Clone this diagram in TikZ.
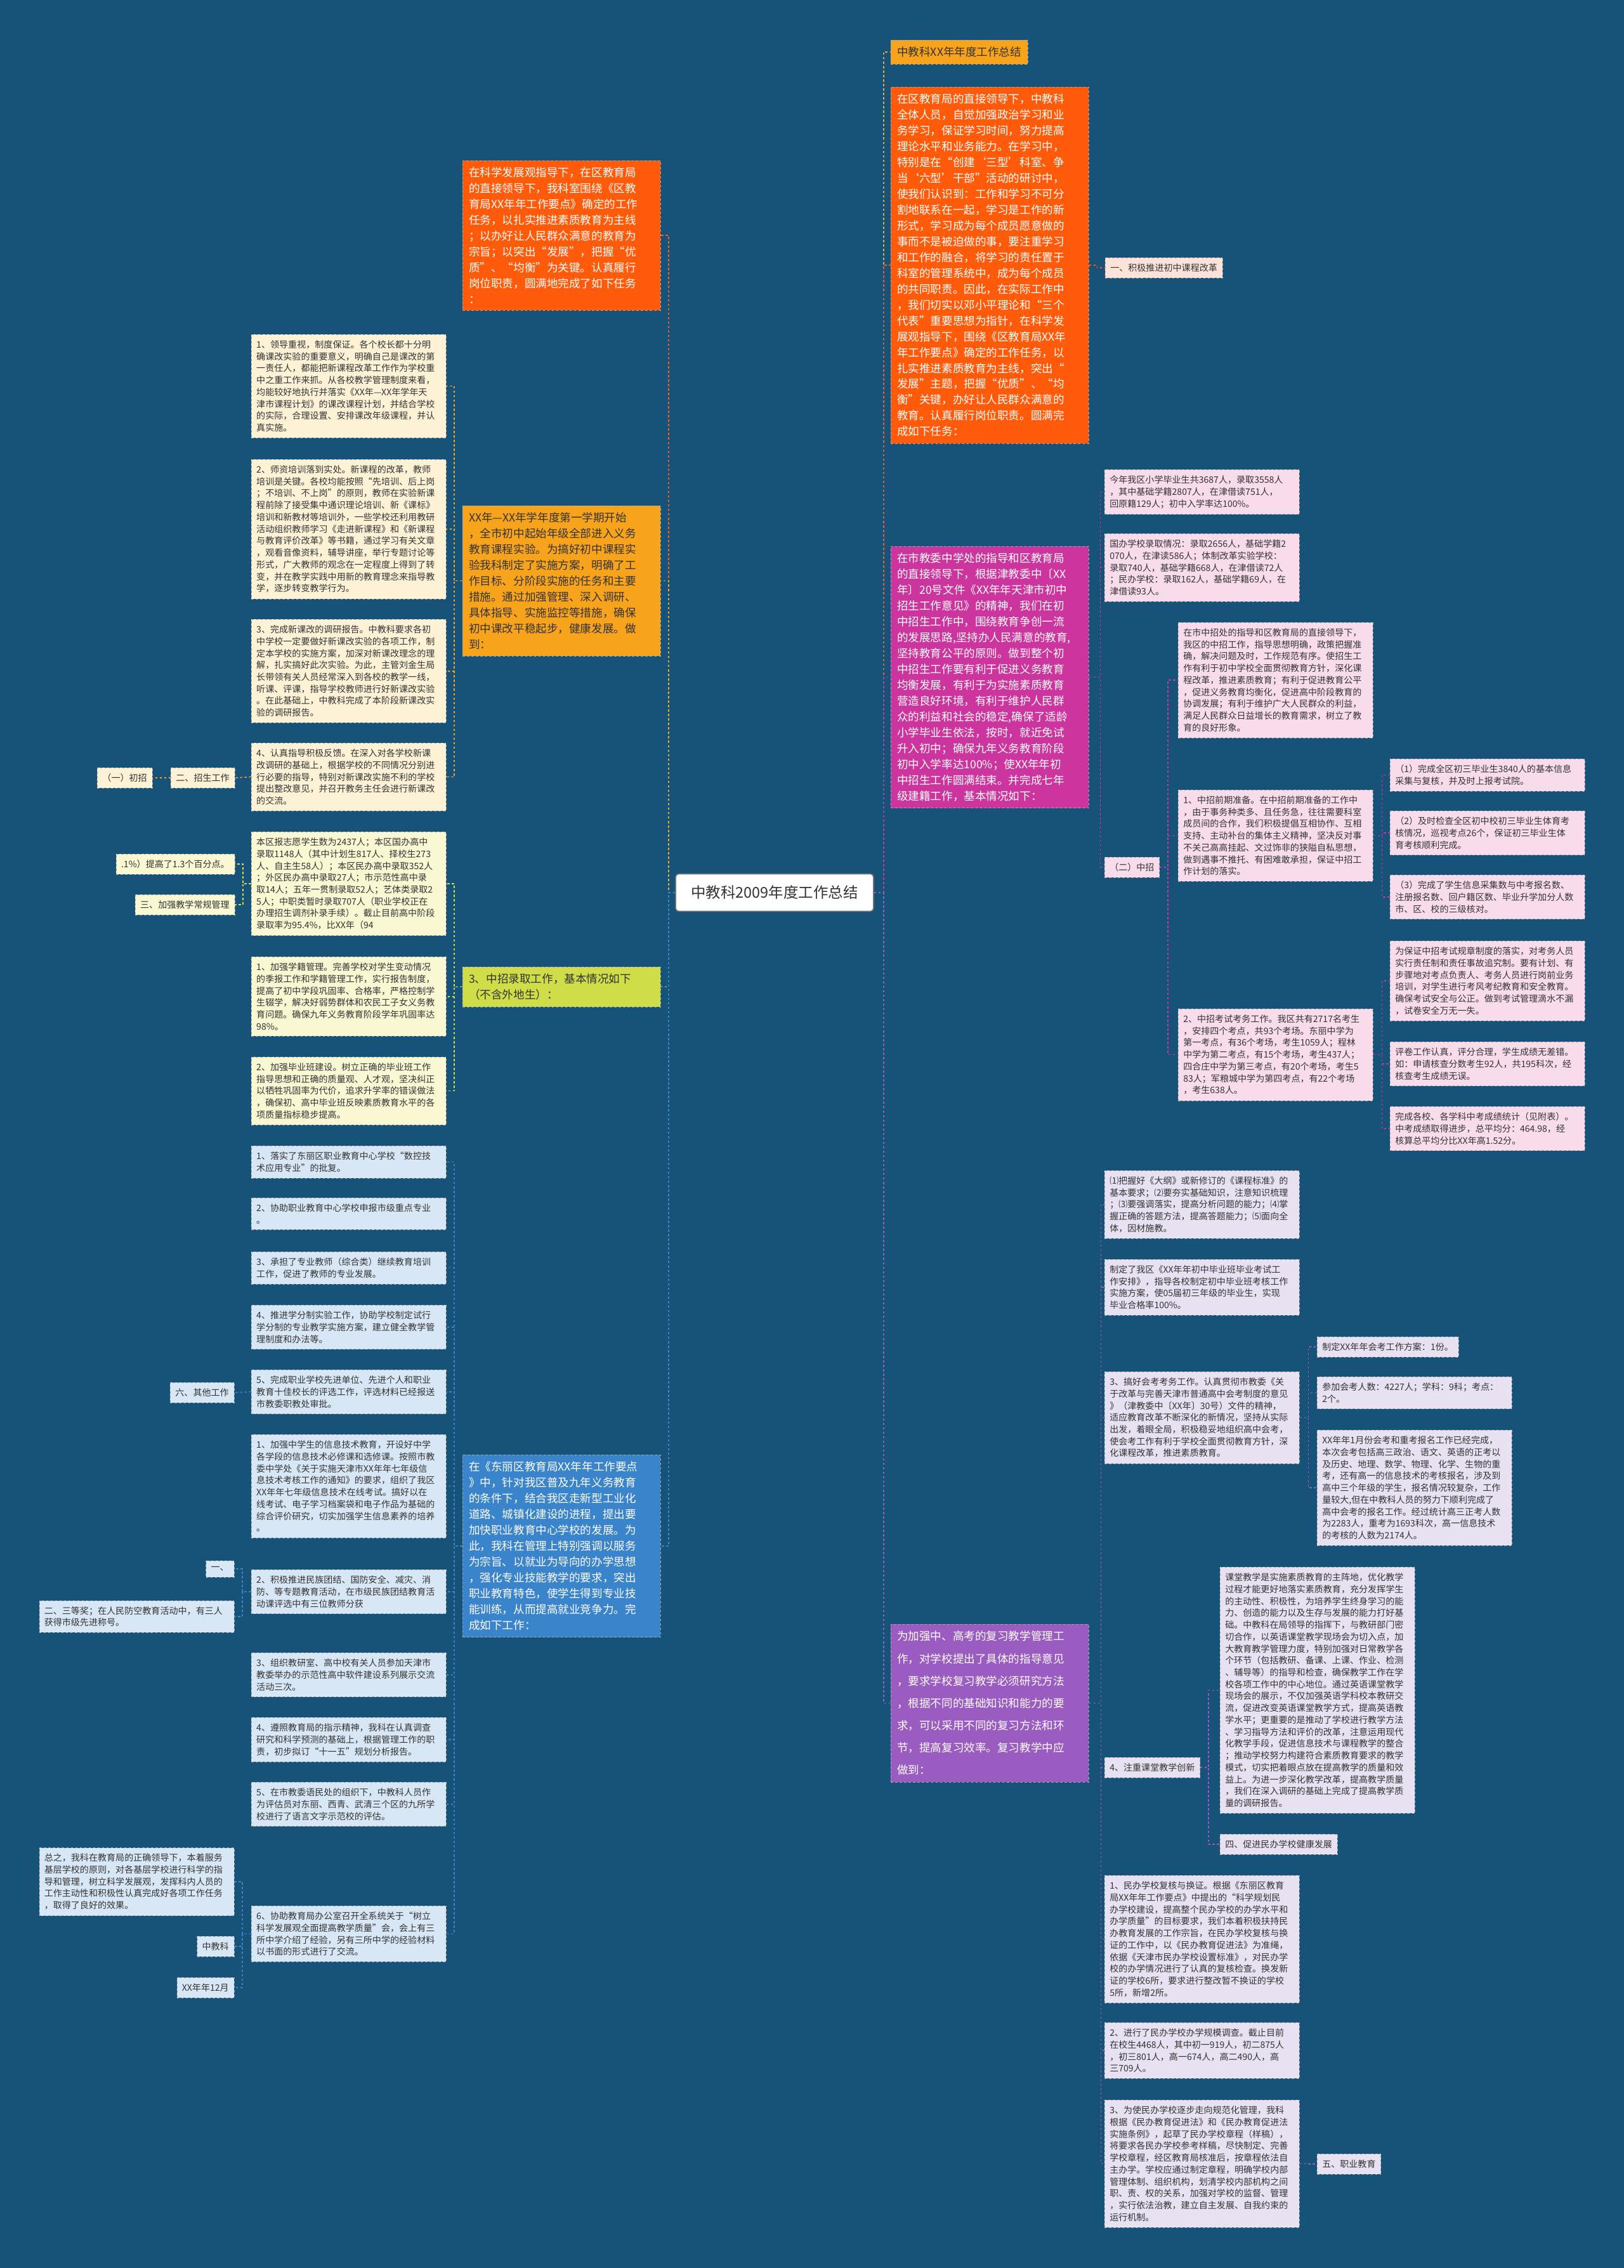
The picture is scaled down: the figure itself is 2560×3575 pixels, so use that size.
\documentclass[tikz,border=0pt]{standalone}
\usepackage{fontspec}
\setmainfont{Noto Sans CJK SC}
\usetikzlibrary{positioning}
\definecolor{bgblue}{HTML}{175278}
\definecolor{redorange}{HTML}{FF5B0A}
\definecolor{amber}{HTML}{F7A31C}
\definecolor{lime}{HTML}{CFDD48}
\definecolor{mgnt}{HTML}{CC359E}
\definecolor{purp}{HTML}{9A5CC0}
\definecolor{skyblue2}{HTML}{3A84CC}
\definecolor{creamA}{HTML}{FDF2D6}
\definecolor{creamB}{HTML}{FAF7D3}
\definecolor{paleblue}{HTML}{D8E7F5}
\definecolor{peach}{HTML}{FCE3D9}
\definecolor{palepink}{HTML}{F8DCEB}
\definecolor{lavender}{HTML}{E7E1F1}
\definecolor{inkgray}{HTML}{333333}

\begin{document}
\begin{tikzpicture}[
      x=0.3mm, y=-0.3mm,
      link/.style={dashed, line width=0.45mm},
      root/.style={draw=black!55, line width=0.5mm, fill=white, rounded corners=1.5mm,
                   minimum width=93.6mm, minimum height=17.7mm,
                   font=\fontsize{20}{24}\selectfont, text=inkgray},
      head/.style={draw=black!35, dashed, inner xsep=3mm, inner ysep=3.2mm,
                   align=left, font=\fontsize{15}{21.3}\selectfont},
      topic/.style={head, text width=87.6mm},
      leaf/.style={draw=black!35, dashed, text=inkgray, inner xsep=2.4mm, inner ysep=2.8mm,
                   align=left, font=\fontsize{12}{16}\selectfont},
      item/.style={leaf, text width=87.3mm}
    ]

    \fill[bgblue] (0,0) rectangle (2560,3575);

    % centre
    \node[root] (root) at (1221,1407) {中教科2009年度工作总结};

    % right main branches
    \node[head, fill=amber, text=inkgray, anchor=north west] (r1) at (1404,63)
      {中教科XX年年度工作总结};
    \node[topic, fill=redorange, text=white, anchor=north west] (r2) at (1404,137)
      {在区教育局的直接领导下，中教科\\全体人员，自觉加强政治学习和业\\务学习，保证学习时间，努力提高\\理论水平和业务能力。在学习中，\\特别是在“创建‘三型’科室、争\\当‘六型’干部”活动的研讨中，\\使我们认识到：工作和学习不可分\\割地联系在一起，学习是工作的新\\形式，学习成为每个成员愿意做的\\事而不是被迫做的事，要注重学习\\和工作的融合，将学习的责任置于\\科室的管理系统中，成为每个成员\\的共同职责。因此，在实际工作中\\，我们切实以邓小平理论和“三个\\代表”重要思想为指针，在科学发\\展观指导下，围绕《区教育局XX年\\年工作要点》确定的工作任务，以\\扎实推进素质教育为主线，突出“\\发展”主题，把握“优质”、“均\\衡”关键，办好让人民群众满意的\\教育。认真履行岗位职责。圆满完\\成如下任务：};
    \node[topic, fill=mgnt, text=white, anchor=north west] (r3) at (1404,861)
      {在市教委中学处的指导和区教育局\\的直接领导下，根据津教委中〔XX\\年〕20号文件《XX年年天津市初中\\招生工作意见》的精神，我们在初\\中招生工作中，围绕教育争创一流\\的发展思路,坚持办人民满意的教育,\\坚持教育公平的原则。做到整个初\\中招生工作要有利于促进义务教育\\均衡发展，有利于为实施素质教育\\营造良好环境，有利于维护人民群\\众的利益和社会的稳定,确保了适龄\\小学毕业生依法，按时，就近免试\\升入初中；确保九年义务教育阶段\\初中入学率达100\%；使XX年年初\\中招生工作圆满结束。并完成七年\\级建籍工作，基本情况如下：};
    \node[topic, fill=purp, text=white, anchor=north west,
          font=\fontsize{15}{30}\selectfont] (r4) at (1404,2560)
      {为加强中、高考的复习教学管理工\\作，对学校提出了具体的指导意见\\，要求学校复习教学必须研究方法\\，根据不同的基础知识和能力的要\\求，可以采用不同的复习方法和环\\节，提高复习效率。复习教学中应\\做到：};

    % left main branches
    \node[topic, fill=redorange, text=white, anchor=north west] (l1) at (729,253)
      {在科学发展观指导下，在区教育局\\的直接领导下，我科室围绕《区教\\育局XX年年工作要点》确定的工作\\任务，以扎实推进素质教育为主线\\；以办好让人民群众满意的教育为\\宗旨；以突出“发展”，把握“优\\质”、“均衡”为关键。认真履行\\岗位职责，圆满地完成了如下任务\\：};
    \node[topic, fill=amber, text=inkgray, anchor=north west] (l2) at (729,797)
      {XX年—XX年学年度第一学期开始\\，全市初中起始年级全部进入义务\\教育课程实验。为搞好初中课程实\\验我科制定了实施方案，明确了工\\作目标、分阶段实施的任务和主要\\措施。通过加强管理、深入调研、\\具体指导、实施监控等措施，确保\\初中课改平稳起步，健康发展。做\\到：};
    \node[topic, fill=lime, text=inkgray, anchor=north west] (l3) at (729,1524)
      {3、中招录取工作，基本情况如下\\（不含外地生）：};
    \node[topic, fill=skyblue2, text=white, anchor=north west] (l4) at (729,2293)
      {在《东丽区教育局XX年年工作要点\\》中，针对我区普及九年义务教育\\的条件下，结合我区走新型工业化\\道路、城镇化建设的进程，提出要\\加快职业教育中心学校的发展。为\\此，我科在管理上特别强调以服务\\为宗旨、以就业为导向的办学思想\\，强化专业技能教学的要求，突出\\职业教育特色，使学生得到专业技\\能训练，从而提高就业竞争力。完\\成如下工作：};

    % left: course reform
    \node[item, fill=creamA, anchor=north west] (c1) at (396,527)
      {1、领导重视，制度保证。各个校长都十分明\\确课改实验的重要意义，明确自己是课改的第\\一责任人，都能把新课程改革工作作为学校重\\中之重工作来抓。从各校教学管理制度来看，\\均能较好地执行并落实《XX年—XX年学年天\\津市课程计划》的课改课程计划，并结合学校\\的实际，合理设置、安排课改年级课程，并认\\真实施。};
    \node[item, fill=creamA, anchor=north west] (c2) at (396,724)
      {2、师资培训落到实处。新课程的改革，教师\\培训是关键。各校均能按照“先培训、后上岗\\；不培训、不上岗”的原则，教师在实验新课\\程前除了接受集中通识理论培训、新《课标》\\培训和新教材等培训外，一些学校还利用教研\\活动组织教师学习《走进新课程》和《新课程\\与教育评价改革》等书籍，通过学习有关文章\\，观看音像资料，辅导讲座，举行专题讨论等\\形式，广大教师的观念在一定程度上得到了转\\变，并在教学实践中用新的教育理念来指导教\\学，逐步转变教学行为。};
    \node[item, fill=creamA, anchor=north west] (c3) at (396,976)
      {3、完成新课改的调研报告。中教科要求各初\\中学校一定要做好新课改实验的各项工作，制\\定本学校的实施方案，加深对新课改理念的理\\解，扎实搞好此次实验。为此，主管刘金生局\\长带领有关人员经常深入到各校的教学一线，\\听课、评课，指导学校教师进行好新课改实验\\。在此基础上，中教科完成了本阶段新课改实\\验的调研报告。};
    \node[item, fill=creamA, anchor=north west] (c4) at (396,1171)
      {4、认真指导积极反馈。在深入对各学校新课\\改调研的基础上，根据学校的不同情况分别进\\行必要的指导，特别对新课改实施不利的学校\\提出整改意见，并召开教务主任会进行新课改\\的交流。};
    \node[leaf, fill=creamA, anchor=east] (zhaosheng) at (370,1226) {二、招生工作};
    \node[leaf, fill=creamA, anchor=east] (chuzhao) at (240,1226) {（一）初招};

    % left: enrolment
    \node[item, fill=creamB, anchor=north west] (d1) at (396,1311)
      {本区报志愿学生数为2437人；本区国办高中\\录取1148人（其中计划生817人、择校生273\\人、自主生58人）；本区民办高中录取352人\\；外区民办高中录取27人；市示范性高中录\\取14人；五年一贯制录取52人；艺体类录取2\\5人；中职类暂时录取707人（职业学校正在\\办理招生调剂补录手续）。截止目前高中阶段\\录取率为95.4\%，比XX年（94};
    \node[item, fill=creamB, anchor=north west] (d2) at (396,1508)
      {1、加强学籍管理。完善学校对学生变动情况\\的季报工作和学籍管理工作，实行报告制度，\\提高了初中学段巩固率、合格率，严格控制学\\生辍学，解决好弱势群体和农民工子女义务教\\育问题。确保九年义务教育阶段学年巩固率达\\98\%。};
    \node[item, fill=creamB, anchor=north west] (d3) at (396,1666)
      {2、加强毕业班建设。树立正确的毕业班工作\\指导思想和正确的质量观、人才观，坚决纠正\\以牺牲巩固率为代价，追求升学率的错误做法\\，确保初、高中毕业班反映素质教育水平的各\\项质量指标稳步提高。};
    \node[leaf, fill=creamB, anchor=east] (tigao) at (370,1362) {.1\%）提高了1.3个百分点。};
    \node[leaf, fill=creamB, anchor=east] (changgui) at (370,1426) {三、加强教学常规管理};

    % left: vocational
    \node[item, fill=paleblue, anchor=north west] (e1) at (396,1806)
      {1、落实了东丽区职业教育中心学校“数控技\\术应用专业”的批复。};
    \node[item, fill=paleblue, anchor=north west] (e2) at (396,1888)
      {2、协助职业教育中心学校申报市级重点专业\\。};
    \node[item, fill=paleblue, anchor=north west] (e3) at (396,1973)
      {3、承担了专业教师（综合类）继续教育培训\\工作，促进了教师的专业发展。};
    \node[item, fill=paleblue, anchor=north west] (e4) at (396,2057)
      {4、推进学分制实验工作，协助学校制定试行\\学分制的专业教学实施方案，建立健全教学管\\理制度和办法等。};
    \node[item, fill=paleblue, anchor=north west] (e5) at (396,2159)
      {5、完成职业学校先进单位、先进个人和职业\\教育十佳校长的评选工作，评选材料已经报送\\市教委职教处审批。};
    \node[item, fill=paleblue, anchor=north west] (e6) at (396,2261)
      {1、加强中学生的信息技术教育，开设好中学\\各学段的信息技术必修课和选修课。按照市教\\委中学处《关于实施天津市XX年年七年级信\\息技术考核工作的通知》的要求，组织了我区\\XX年年七年级信息技术在线考试。搞好以在\\线考试、电子学习档案袋和电子作品为基础的\\综合评价研究，切实加强学生信息素养的培养\\。};
    \node[item, fill=paleblue, anchor=north west] (e7) at (396,2474)
      {2、积极推进民族团结、国防安全、减灾、消\\防、等专题教育活动，在市级民族团结教育活\\动课评选中有三位教师分获};
    \node[item, fill=paleblue, anchor=north west] (e8) at (396,2605)
      {3、组织教研室、高中校有关人员参加天津市\\教委举办的示范性高中软件建设系列展示交流\\活动三次。};
    \node[item, fill=paleblue, anchor=north west] (e9) at (396,2707)
      {4、遵照教育局的指示精神，我科在认真调查\\研究和科学预测的基础上，根据管理工作的职\\责，初步拟订“十一五”规划分析报告。};
    \node[item, fill=paleblue, anchor=north west] (e10) at (396,2809)
      {5、在市教委语民处的组织下，中教科人员作\\为评估员对东丽、西青、武清三个区的九所学\\校进行了语言文字示范校的评估。};
    \node[item, fill=paleblue, anchor=north west] (e11) at (396,3004)
      {6、协助教育局办公室召开全系统关于“树立\\科学发展观全面提高教学质量”会，会上有三\\所中学介绍了经验，另有三所中学的经验材料\\以书面的形式进行了交流。};
    \node[leaf, fill=paleblue, anchor=east] (qita) at (369,2195) {六、其他工作};
    \node[leaf, fill=paleblue, anchor=east] (yi) at (369,2473) {一、};
    \node[item, fill=paleblue, anchor=east] (sandeng) at (369,2548)
      {二、三等奖；在人民防空教育活动中，有三人\\获得市级先进称号。};
    \node[item, fill=paleblue, anchor=east] (zongzhi) at (369,2966)
      {总之，我科在教育局的正确领导下，本着服务\\基层学校的原则，对各基层学校进行科学的指\\导和管理，树立科学发展观，发挥科内人员的\\工作主动性和积极性认真完成好各项工作任务\\，取得了良好的效果。};
    \node[leaf, fill=paleblue, anchor=east] (zjk) at (369,3068) {中教科};
    \node[leaf, fill=paleblue, anchor=east] (riqi) at (369,3133) {XX年年12月};

    % right: first branch child
    \node[leaf, fill=peach, anchor=west] (kegai) at (1742,422) {一、积极推进初中课程改革};

    % right: admission
    \node[item, fill=palepink, anchor=north west] (p1) at (1741,740)
      {今年我区小学毕业生共3687人，录取3558人\\，其中基础学籍2807人，在津借读751人，\\回原籍129人；初中入学率达100\%。};
    \node[item, fill=palepink, anchor=north west] (p2) at (1741,841)
      {国办学校录取情况：录取2656人，基础学籍2\\070人，在津读586人；体制改革实验学校：\\录取740人，基础学籍668人，在津借读72人\\；民办学校：录取162人，基础学籍69人，在\\津借读93人。};
    \node[leaf, fill=palepink, anchor=west] (zhongzhao) at (1741,1367) {（二）中招};
    \node[item, fill=palepink, anchor=north west] (p4) at (1857,981)
      {在市中招处的指导和区教育局的直接领导下，\\我区的中招工作，指导思想明确，政策把握准\\确，解决问题及时，工作规范有序。使招生工\\作有利于初中学校全面贯彻教育方针，深化课\\程改革，推进素质教育；有利于促进教育公平\\，促进义务教育均衡化，促进高中阶段教育的\\协调发展；有利于维护广大人民群众的利益，\\满足人民群众日益增长的教育需求，树立了教\\育的良好形象。};
    \node[item, fill=palepink, anchor=north west] (p5) at (1857,1245)
      {1、中招前期准备。在中招前期准备的工作中\\，由于事务种类多、且任务急，往往需要科室\\成员间的合作，我们积极提倡互相协作、互相\\支持、主动补台的集体主义精神，坚决反对事\\不关己高高挂起、文过饰非的狭隘自私思想，\\做到遇事不推托、有困难敢承担，保证中招工\\作计划的落实。};
    \node[item, fill=palepink, anchor=north west] (p9) at (1857,1590)
      {2、中招考试考务工作。我区共有2717名考生\\，安排四个考点，共93个考场。东丽中学为\\第一考点，有36个考场，考生1059人；程林\\中学为第二考点，有15个考场，考生437人；\\四合庄中学为第三考点，有20个考场，考生5\\83人；军粮城中学为第四考点，有22个考场\\，考生638人。};
    \node[item, fill=palepink, anchor=north west] (p6) at (2191,1196)
      {（1）完成全区初三毕业生3840人的基本信息\\采集与复核，并及时上报考试院。};
    \node[item, fill=palepink, anchor=north west] (p7) at (2191,1278)
      {（2）及时检查全区初中校初三毕业生体育考\\核情况，巡视考点26个，保证初三毕业生体\\育考核顺利完成。};
    \node[item, fill=palepink, anchor=north west] (p8) at (2191,1379)
      {（3）完成了学生信息采集数与中考报名数、\\注册报名数、回户籍区数、毕业升学加分人数\\市、区、校的三级核对。};
    \node[item, fill=palepink, anchor=north west] (p10) at (2191,1483)
      {为保证中招考试规章制度的落实，对考务人员\\实行责任制和责任事故追究制。要有计划、有\\步骤地对考点负责人、考务人员进行岗前业务\\培训，对学生进行考风考纪教育和安全教育。\\确保考试安全与公正。做到考试管理滴水不漏\\，试卷安全万无一失。};
    \node[item, fill=palepink, anchor=north west] (p11) at (2191,1642)
      {评卷工作认真，评分合理，学生成绩无差错。\\如：申请核查分数考生92人，共195科次，经\\核查考生成绩无误。};
    \node[item, fill=palepink, anchor=north west] (p12) at (2191,1744)
      {完成各校、各学科中考成绩统计（见附表）。\\中考成绩取得进步，总平均分：464.98，经\\核算总平均分比XX年高1.52分。};

    % right: review teaching
    \node[item, fill=lavender, anchor=north west] (q1) at (1741,1845)
      {⑴把握好《大纲》或新修订的《课程标准》的\\基本要求；⑵要夯实基础知识，注意知识梳理\\；⑶要强调落实，提高分析问题的能力；⑷掌\\握正确的答题方法，提高答题能力；⑸面向全\\体，因材施教。};
    \node[item, fill=lavender, anchor=north west] (q2) at (1741,1985)
      {制定了我区《XX年年初中毕业班毕业考试工\\作安排》，指导各校制定初中毕业班考核工作\\实施方案，使05届初三年级的毕业生，实现\\毕业合格率100\%。};
    \node[item, fill=lavender, anchor=north west] (q3) at (1741,2162)
      {3、搞好会考考务工作。认真贯彻市教委《关\\于改革与完善天津市普通高中会考制度的意见\\》（津教委中〔XX年〕30号）文件的精神，\\适应教育改革不断深化的新情况，坚持从实际\\出发，着眼全局，积极稳妥地组织高中会考，\\使会考工作有利于学校全面贯彻教育方针，深\\化课程改革，推进素质教育。};
    \node[leaf, fill=lavender, anchor=west] (huikao) at (2076,2123) {制定XX年年会考工作方案：1份。};
    \node[item, fill=lavender, anchor=north west] (q5) at (2076,2170)
      {参加会考人数：4227人；学科：9科；考点：\\2个。};
    \node[item, fill=lavender, anchor=north west] (q6) at (2076,2254)
      {XX年年1月份会考和重考报名工作已经完成，\\本次会考包括高三政治、语文、英语的正考以\\及历史、地理、数学、物理、化学、生物的重\\考，还有高一的信息技术的考核报名，涉及到\\高中三个年级的学生，报名情况较复杂，工作\\量较大,但在中教科人员的努力下顺利完成了\\高中会考的报名工作。经过统计高三正考人数\\为2283人，重考为1693科次，高一信息技术\\的考核的人数为2174人。};
    \node[leaf, fill=lavender, anchor=west] (ketang) at (1741,2786) {4、注重课堂教学创新};
    \node[item, fill=lavender, anchor=north west] (q8) at (1923,2470)
      {课堂教学是实施素质教育的主阵地，优化教学\\过程才能更好地落实素质教育，充分发挥学生\\的主动性、积极性，为培养学生终身学习的能\\力、创造的能力以及生存与发展的能力打好基\\础。中教科在局领导的指挥下，与教研部门密\\切合作，以英语课堂教学现场会为切入点，加\\大教育教学管理力度，特别加强对日常教学各\\个环节（包括教研、备课、上课、作业、检测\\、辅导等）的指导和检查，确保教学工作在学\\校各项工作中的中心地位。通过英语课堂教学\\现场会的展示，不仅加强英语学科校本教研交\\流，促进改变英语课堂教学方式，提高英语教\\学水平；更重要的是推动了学校进行教学方法\\、学习指导方法和评价的改革，注意运用现代\\化教学手段，促进信息技术与课程教学的整合\\；推动学校努力构建符合素质教育要求的教学\\模式，切实把着眼点放在提高教学的质量和效\\益上。为进一步深化教学改革，提高教学质量\\，我们在深入调研的基础上完成了提高教学质\\量的调研报告。};
    \node[leaf, fill=lavender, anchor=west] (minban) at (1923,2907) {四、促进民办学校健康发展};
    \node[item, fill=lavender, anchor=north west] (q10) at (1741,2956)
      {1、民办学校复核与换证。根据《东丽区教育\\局XX年年工作要点》中提出的“科学规划民\\办学校建设，提高整个民办学校的办学水平和\\办学质量”的目标要求，我们本着积极扶持民\\办教育发展的工作宗旨，在民办学校复核与换\\证的工作中，以《民办教育促进法》为准绳，\\依据《天津市民办学校设置标准》，对民办学\\校的办学情况进行了认真的复核检查。换发新\\证的学校6所，要求进行整改暂不换证的学校\\5所，新增2所。};
    \node[item, fill=lavender, anchor=north west] (q11) at (1741,3188)
      {2、进行了民办学校办学规模调查。截止目前\\在校生4468人，其中初一919人，初二875人\\，初三801人，高一674人，高二490人，高\\三709人。};
    \node[item, fill=lavender, anchor=north west] (q12) at (1741,3310)
      {3、为使民办学校逐步走向规范化管理，我科\\根据《民办教育促进法》和《民办教育促进法\\实施条例》，起草了民办学校章程（样稿），\\将要求各民办学校参考样稿，尽快制定、完善\\学校章程，经区教育局核准后，按章程依法自\\主办学。学校应通过制定章程，明确学校内部\\管理体制、组织机构，划清学校内部机构之间\\职、责、权的关系，加强对学校的监督、管理\\，实行依法治教，建立自主发展、自我约束的\\运行机制。};
    \node[leaf, fill=lavender, anchor=west] (zhijiao) at (2076,3411) {五、职业教育};

    % connectors from the centre
    \draw[link, draw=amber]     (root.east) -- ++(15,0) |- (r1.west);
    \draw[link, draw=redorange] (root.east) -- ++(15,0) |- (r2.west);
    \draw[link, draw=mgnt]      (root.east) -- ++(15,0) |- (r3.west);
    \draw[link, draw=purp]      (root.east) -- ++(15,0) |- (r4.west);
    \draw[link, draw=redorange] (root.west) -- ++(-10,0) |- (l1.east);
    \draw[link, draw=amber]     (root.west) -- ++(-10,0) |- (l2.east);
    \draw[link, draw=lime]      (root.west) -- ++(-10,0) |- (l3.east);
    \draw[link, draw=skyblue2]  (root.west) -- ++(-10,0) |- (l4.east);

    % right side
    \draw[link, draw=redorange] (r2.east) -- ++(13,0) |- (kegai.west);
    \foreach \c in {p1,p2,zhongzhao}
      \draw[link, draw=mgnt] (r3.east) -- ++(18,0) |- (\c.west);
    \foreach \c in {p4,p5,p9}
      \draw[link, draw=mgnt] (zhongzhao.east) -- ++(13,0) |- (\c.west);
    \foreach \c in {p6,p7,p8}
      \draw[link, draw=mgnt] (p5.east) -- ++(14,0) |- (\c.west);
    \foreach \c in {p10,p11,p12}
      \draw[link, draw=mgnt] (p9.east) -- ++(14,0) |- (\c.west);
    \foreach \c in {q1,q2,q3,ketang,q10,q11,q12}
      \draw[link, draw=purp] (r4.east) -- ++(19,0) |- (\c.west);
    \foreach \c in {huikao,q5,q6}
      \draw[link, draw=purp] (q3.east) -- ++(14,0) |- (\c.west);
    \foreach \c in {q8,minban}
      \draw[link, draw=purp] (ketang.east) -- ++(13,0) |- (\c.west);
    \draw[link, draw=purp] (q12.east) -- ++(14,0) |- (zhijiao.west);

    % left side
    \foreach \c in {c1,c2,c3,c4}
      \draw[link, draw=amber] (l2.west) -- ++(-13,0) |- (\c.east);
    \draw[link, draw=amber] (c4.west) -- (zhaosheng.east);
    \draw[link, draw=amber] (zhaosheng.west) -- (chuzhao.east);
    \foreach \c in {d1,d2,d3}
      \draw[link, draw=lime] (l3.west) -- ++(-13,0) |- (\c.east);
    \foreach \c in {tigao,changgui}
      \draw[link, draw=lime] (d1.west) -- ++(-13,0) |- (\c.east);
    \foreach \c in {e1,e2,e3,e4,e5,e6,e7,e8,e9,e10,e11}
      \draw[link, draw=skyblue2] (l4.west) -- ++(-13,0) |- (\c.east);
    \draw[link, draw=skyblue2] (e5.west) -- (qita.east);
    \foreach \c in {yi,sandeng}
      \draw[link, draw=skyblue2] (e7.west) -- ++(-14,0) |- (\c.east);
    \foreach \c in {zongzhi,zjk,riqi}
      \draw[link, draw=skyblue2] (e11.west) -- ++(-14,0) |- (\c.east);

  \end{tikzpicture}
\end{document}
